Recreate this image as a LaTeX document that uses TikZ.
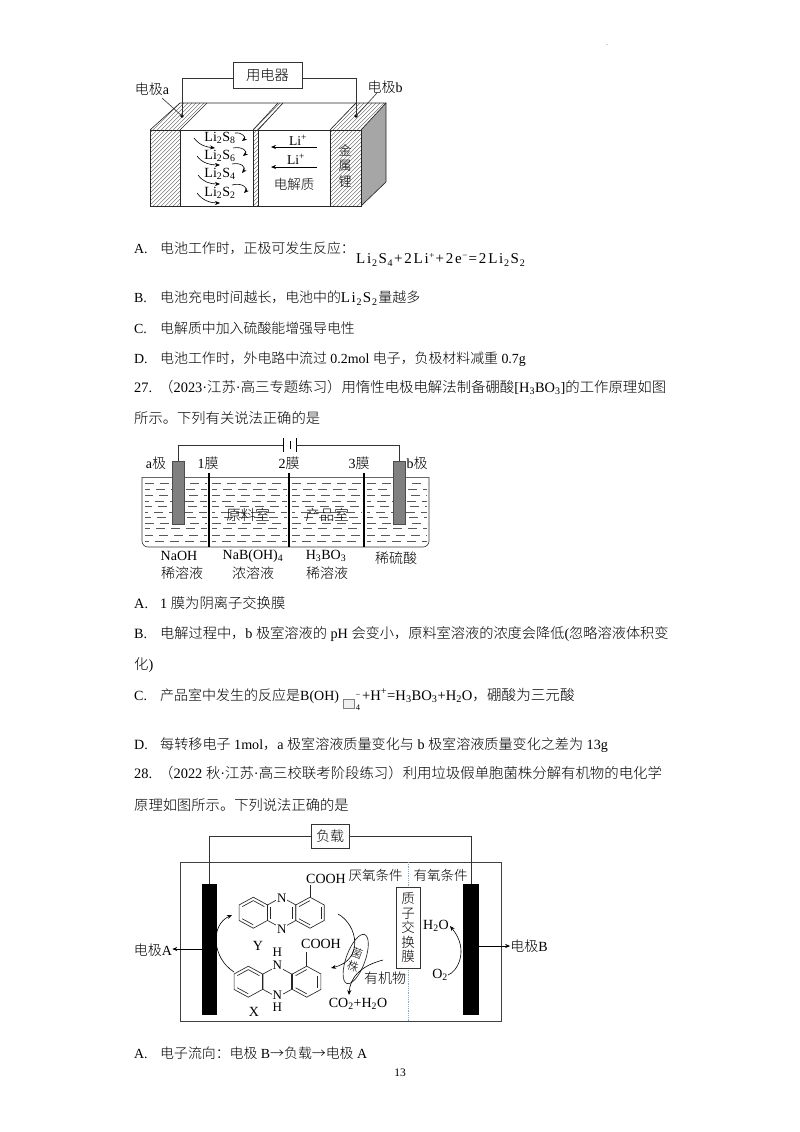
\documentclass[tikz,border=0pt]{standalone}
\usepackage{fontspec}
\setmainfont{Liberation Serif}
\newfontfamily\cjk[UprightFont=* Light,BoldFont=*]{Noto Sans CJK SC}
\usetikzlibrary{arrows.meta,shapes.geometric,calc}
\newcommand\zh[1]{{\cjk #1}}
\newcommand\fsz[1]{\fontsize{#1}{#1}\selectfont}
\newcommand\lab[1]{\makebox[26pt][l]{#1}}
\newcommand\lowx[1]{\textsubscript{#1}}
\newcommand\upx[1]{\textsuperscript{#1}}
\newcommand\lowk[1]{\kern0.8pt\raisebox{-3.2pt}{\fontsize{10}{10}\selectfont #1}\kern1.4pt}
\newcommand\upk[1]{\kern0.6pt\raisebox{4.5pt}{\fontsize{9}{9}\selectfont #1}\kern1.2pt}
\newcommand\hexa[4][]{% cx cy edges
  \draw[bond] ($(#2,#3)+(90:16.4 and 15.5)$)--($(#2,#3)+(30:16.4 and 15.5)$)--($(#2,#3)+(-30:16.4 and 15.5)$)--($(#2,#3)+(-90:16.4 and 15.5)$)--($(#2,#3)+(-150:16.4 and 15.5)$)--($(#2,#3)+(150:16.4 and 15.5)$)--cycle;
  \foreach \a in {#4}{\draw[bond] ($(#2,#3)+(\a:12.8 and 12.1)$)--($(#2,#3)+(\a-60:12.8 and 12.1)$);}
}
\tikzset{
 pagetext/.style={anchor=base west,inner sep=0pt,font=\fsz{14.3}},
 lbl/.style={inner sep=0pt,font=\fsz{14}},
 small/.style={inner sep=0pt,font=\fsz{13}},
 arr/.style={-{Stealth[length=5pt,width=4pt]}},
 wire/.style={line width=0.8pt,draw=black!80},
 bond/.style={line width=0.65pt,draw=black!85},
 hatchline/.style={line width=0.35pt,draw=black!65},
 curve/.style={line width=0.6pt,arr},
 water/.style={line width=0.6pt,draw=black!65},
}
\begin{document}
\begin{tikzpicture}[x=1pt,y=-1pt]
\useasboundingbox (0,0) rectangle (800,1132);
\fill[white] (0,0) rectangle (800,1132);
\node[inner sep=0pt,font=\fsz{6}] (dot) at (607,45) {.};

% ---------- battery 1
\fill[black!35] (361,130)--(386,103)--(386,182)--(361,206)--cycle;
\begin{scope}
 \clip (150,130) rectangle (180,206) (150,130)--(180,103)--(207,103)--(180,130)--cycle
       (330,130) rectangle (361,206) (330,130)--(356,103)--(386,103)--(361,130)--cycle
       (253,130) rectangle (258,206) (253,130)--(278,103)--(283,103)--(258,130)--cycle;
 \foreach \i in {0,4,...,420}{\draw[hatchline] (40+\i,215)--++(125,-125);}
\end{scope}
\draw[bond] (150,130) rectangle (361,206);
\draw[bond] (150,130)--(180,103)--(386,103)--(361,130);
\draw[bond] (386,103)--(386,182)--(361,206);
\draw[bond,line width=0.9pt] (180,130)--(180,206) (253,130)--(253,206) (258,130)--(258,206) (330,130)--(330,206);
\draw[bond] (180,130)--(207,103) (253,130)--(278,103) (258,130)--(283,103) (330,130)--(356,103);
\node[draw=black!80,line width=0.8pt,fill=white,minimum width=69pt,minimum height=26pt,inner sep=0pt,font=\fsz{14.3}] (load1) at (267.5,75) {\zh{用电器}};
\coordinate (dotA) at (182,116);
\coordinate (dotB) at (356,116);
\fill (dotA) circle (1.8pt) (dotB) circle (1.8pt);
\draw[wire] (load1.west|-233,78) -| (dotA);
\draw[wire] (load1.east|-302,78) -| (dotB);
\node[lbl] (ea) at (152,89) {\zh{电极}a};
\node[lbl] (eb) at (385,87) {\zh{电极}b};
\draw[wire,line width=0.6pt] (162,98)--(dotA);
\draw[wire,line width=0.6pt] (377,93)--(dotB);
\foreach \n/\s/\y in {s8/8/138,s6/6/156,s4/4/174,s2/2/193}{
 \node[inner sep=0pt,font=\fsz{14}] (\n) at (220,\y) {Li\lowx{2}S\lowx{\s}};}
\draw[curve] (194,138) .. controls (200,146) and (207,147) .. (215,148);
\draw[curve] (197,156) .. controls (202,163) and (210,165) .. (220,165);
\draw[curve] (198,175) .. controls (203,182) and (210,184) .. (220,184);
\draw[curve] (197,193) .. controls (202,200) and (210,203) .. (220,203);
\draw[curve] (235,133) .. controls (243,132) and (246,138) .. (242,141);
\draw[curve] (233,148) .. controls (243,146) and (248,152) .. (243,156);
\draw[curve] (232,164) .. controls (242,162) and (246,168) .. (242,173);
\draw[curve] (232,185) .. controls (243,182) and (248,189) .. (244,193);
\node[inner sep=0pt,font=\fsz{13.5}] (li1) at (298,140) {Li\upx{+}};
\node[inner sep=0pt,font=\fsz{13.5}] (li2) at (296,159) {Li\upx{+}};
\coordinate (la1) at (317,147);\coordinate (la1e) at (271,147);
\coordinate (la2) at (317,167);\coordinate (la2e) at (271,167);
\draw[curve] (la1)--(la1e);
\draw[curve] (la2)--(la2e);
\node[small,font=\fsz{13.5}] (elec) at (294,184) {\zh{电解质}};
\node[small] (m1) at (345,150) {\zh{金}};
\node[small] (m2) at (345,166) {\zh{属}};
\node[small] (m3) at (345,182) {\zh{锂}};

% ---------- page text 1
\node[pagetext,font=\fsz{13.9}] (t1) at (134,253) {\lab{A.}\zh{电池工作时，正极可发生反应：}};
\node[pagetext,font=\fsz{15}\addfontfeature{LetterSpace=12}] (t1b) at (356,263) {Li\lowk{2}S\lowk{4}+2Li\upk{+}+2e\upk{−}=2Li\lowk{2}S\lowk{2}};
\node[pagetext,font=\fsz{13.9}] (t2) at (134,302) {\lab{B.}\zh{电池充电时间越长，电池中的}{\fsz{15}\addfontfeature{LetterSpace=10}Li\lowk{2}S\lowk{2}}\zh{量越多}};
\node[pagetext,font=\fsz{13.9}] (t3) at (134,333) {\lab{C.}\zh{电解质中加入硫酸能增强导电性}};
\node[pagetext,font=\fsz{13.9}] (t4) at (134,363) {\lab{D.}\zh{电池工作时，外电路中流过} 0.2mol \zh{电子，负极材料减重} 0.7g};
\node[pagetext,font=\fsz{14.4}] (t5) at (134,392) {27.\hspace{7pt}\zh{（}2023·\zh{江苏}·\zh{高三专题练习）用惰性电极电解法制备硼酸}[H\lowx{3}BO\lowx{3}]\zh{的工作原理如图}};
\node[pagetext] (t6) at (134,423) {\zh{所示。下列有关说法正确的是}};

% ---------- cell 2
\foreach \y/\p in {483/0,489/4,495/1,501/5,506/2,512/6,517/3,523/0,528/4,535/1,541/5}{
 \draw[water,dash pattern=on 9pt off 6pt,dash phase=\p pt] (145,\y)--(207,\y);
 \draw[water,dash pattern=on 9pt off 6pt,dash phase=\p pt] (212,\y)--(287,\y);
 \draw[water,dash pattern=on 9pt off 6pt,dash phase=\p pt] (292,\y)--(362,\y);
 \draw[water,dash pattern=on 9pt off 6pt,dash phase=\p pt] (367,\y)--(427,\y);
}
\draw[bond,draw=black!60] (142,477)--(429,477);
\draw[bond,draw=black!80,rounded corners=6pt] (142,477)--(142,547)--(429,547)--(429,477);
\foreach \x in {209,289,364}{\draw[line width=1.2pt] (\x,473)--(\x,547);}
\node[draw=black!70,fill=black!50,minimum width=12pt,minimum height=63pt,inner sep=0pt] (ela) at (178,492.5) {};
\node[draw=black!70,fill=black!50,minimum width=12pt,minimum height=63pt,inner sep=0pt] (elb) at (399,492.5) {};
\node[inner sep=0pt,minimum width=13pt,minimum height=14pt] (bat) at (289.5,445) {};
\draw[line width=0.8pt] (283,438)--(283,452) (296,438)--(296,452);
\draw[line width=1.5pt] (290.5,441)--(290.5,449);
\draw[wire] (ela.north) |- (283,445);
\draw[wire] (elb.north) |- (296,445);
\node[lbl] (aj) at (156,463) {a\zh{极}};
\node[lbl] (m1m) at (208,463) {1\zh{膜}};
\node[lbl] (m2m) at (289,463) {2\zh{膜}};
\node[lbl] (m3m) at (359,463) {3\zh{膜}};
\node[lbl] (bj) at (417,463) {b\zh{极}};
\node[lbl,font=\fsz{14.5}] (yl) at (248,515) {\zh{原料室}};
\node[lbl,font=\fsz{14.5}] (cp) at (327,515) {\zh{产品室}};
\node[lbl,font=\fsz{14}] (c1) at (179,556) {NaOH};
\node[lbl,font=\fsz{14}] (c2) at (253,556) {NaB(OH)\lowx{4}};
\node[lbl,font=\fsz{14}] (c3) at (326,556) {H\lowx{3}BO\lowx{3}};
\node[lbl] (c4) at (396,558) {\zh{稀硫酸}};
\node[lbl] (d1) at (182,573) {\zh{稀溶液}};
\node[lbl] (d2) at (253,573) {\zh{浓溶液}};
\node[lbl] (d3) at (327,573) {\zh{稀溶液}};

% ---------- page text 2
\node[pagetext] (u1) at (134,608) {\lab{A.}1 \zh{膜为阴离子交换膜}};
\node[pagetext,font=\fsz{14.2}] (u2) at (134,638) {\lab{B.}\zh{电解过程中，}b \zh{极室溶液的} pH \zh{会变小，原料室溶液的浓度会降低}(\zh{忽略溶液体积变}};
\node[pagetext] (u3) at (134,669) {\zh{化})};
\node[pagetext,font=\fsz{14}] (u4) at (134,700) {\lab{C.}\zh{产品室中发生的反应是}B(OH)};
\draw[draw=black!50,line width=0.9pt,fill=black!6] (343.5,699) rectangle (354,708);
\node[inner sep=0pt,font=\fsz{8.5}] (u4a) at (358,708) {4};
\node[inner sep=0pt,font=\fsz{8.5}] (u4b) at (358,696) {−};
\node[pagetext,font=\fsz{14.6}] (u4c) at (362,700) {+H\upx{+}=H\lowx{3}BO\lowx{3}+H\lowx{2}O\zh{，硼酸为三元酸}};
\node[pagetext,font=\fsz{14.1}] (u5) at (134,749) {\lab{D.}\zh{每转移电子} 1mol\zh{，}a \zh{极室溶液质量变化与} b \zh{极室溶液质量变化之差为} 13g};
\node[pagetext,font=\fsz{14.4}] (u6) at (134,778) {28.\hspace{7pt}\zh{（}2022 \zh{秋}·\zh{江苏}·\zh{高三校联考阶段练习）利用垃圾假单胞菌株分解有机物的电化学}};
\node[pagetext] (u7) at (134,810) {\zh{原理如图所示。下列说法正确的是}};

% ---------- cell 3
\draw[draw=black!75,line width=0.8pt] (180,862) rectangle (501,1021);
\draw[draw=cyan!60!black!60,line width=0.8pt,densely dotted] (408,862)--(408,1021);
\node[fill=black,minimum width=15pt,minimum height=131pt,inner sep=0pt] (EA) at (209.5,949.5) {};
\node[fill=black,minimum width=16pt,minimum height=131pt,inner sep=0pt] (EB) at (471,949.5) {};
\node[draw=black!80,line width=0.8pt,fill=white,minimum width=38pt,minimum height=24pt,inner sep=0pt,font=\fsz{14}] (load3) at (330,836) {\zh{负载}};
\draw[wire] (load3.west) -| (EA.north);
\draw[wire] (load3.east) -| (EB.north);
\node[lbl] (LA) at (153,950) {\zh{电极}A};
\node[lbl] (LB) at (529,946) {\zh{电极}B};
\draw[curve] (EA.west|-202,949) -- (LA.east|-172,949);
\draw[curve] (EB.east|-479,946) -- (LB.west|-509,946);
\node[lbl,font=\fsz{13.5}] (an) at (375.5,875) {\zh{厌氧条件}};
\node[lbl,font=\fsz{13.5}] (ox) at (440.5,875) {\zh{有氧条件}};
\node[draw=black!80,line width=0.7pt,fill=white,minimum width=24pt,minimum height=81pt,inner sep=0pt,align=center,font=\fsz{13.5}] (pm) at (408,927.5) {\zh{质}\\[1pt]\zh{子}\\[1pt]\zh{交}\\[1pt]\zh{换}\\[1pt]\zh{膜}};
\node[lbl] (h2o) at (436,926) {H\lowx{2}O};
\node[lbl] (o2) at (440,975) {O\lowx{2}};
\draw[curve] (o2.east) .. controls (457,972) and (470,950) .. (450,926);
% Y
\hexa{253.3}{912.7}{150,-30,270}
\hexa{281.7}{912.7}{30,-150}
\hexa{310}{912.7}{30,-90,150}
\node[lbl,fill=white,inner sep=0.6pt,font=\fsz{13}] (NY1) at (281.7,898) {N};
\node[lbl,fill=white,inner sep=0.6pt,font=\fsz{13}] (NY2) at (281.7,929) {N};
\node[lbl] (COY) at (326,879) {COOH};
\coordinate (by) at (310,897.2);
\draw[bond] (by)--(310,885);
\node[lbl] (Y) at (258,946) {Y};
% X
\hexa{248.3}{981.7}{150,-30,270}
\hexa{277.3}{981.7}{}
\hexa{306.7}{981.7}{30,-90,150}
\node[lbl,fill=white,inner sep=0.6pt,font=\fsz{13}] (NX1) at (277.3,965) {N};
\node[lbl,fill=white,inner sep=0.6pt,font=\fsz{13}] (NX2) at (277.3,995) {N};
\node[lbl,font=\fsz{13}] (HX1) at (277.3,952) {H};
\node[lbl,font=\fsz{13}] (HX2) at (277.3,1007) {H};
\node[lbl] (COX) at (321,944) {COOH};
\draw[bond] (306.7,966.2)--(306.7,952);
\node[lbl] (X) at (254,1012) {X};
% arcs
\draw[curve] (234,972) .. controls (212,958) and (210,925) .. (232,915);
\draw[curve] (338,914) .. controls (358,925) and (364,960) .. (331,968);
\node[draw=black!85,line width=0.65pt,ellipse,rotate=70,minimum width=52pt,minimum height=19pt,inner sep=0pt] (str) at (355.7,959) {};
\node[inner sep=0pt,font=\fsz{11.5},rotate=-20] (j1) at (357,953) {\zh{菌}};
\node[inner sep=0pt,font=\fsz{11.5},rotate=-20] (j2) at (353,966) {\zh{株}};
\node[lbl] (org) at (385,978) {\zh{有机物}};
\node[lbl] (co2) at (358,1004) {CO\lowx{2}+H\lowx{2}O};
\coordinate (orgs) at (383,960);
\draw[curve] (orgs) .. controls (360,966) and (350,978) .. (349,995);

% ---------- last lines
\node[pagetext,font=\fsz{13.9}] (v1) at (134,1058) {\lab{A.}\zh{电子流向：电极} B\zh{→负载→电极} A};
\node[inner sep=0pt,font=\fsz{11.5}] (pg) at (400,1073) {13};
\end{tikzpicture}
\end{document}
